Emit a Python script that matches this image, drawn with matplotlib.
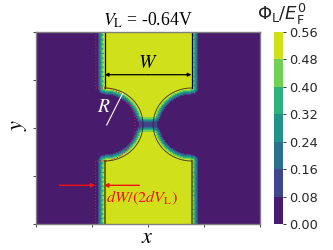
import numpy as np
import matplotlib
matplotlib.use("Agg")
import matplotlib.pyplot as plt

# channel outline (axis units, centre of the neck as origin)
edge_dy = [0, 0.083, 0.167, 0.25, 0.333, 0.417, 0.5, 0.583, 0.667, 0.708, 0.74, 0.76]
edge_hw = [0.09, 0.095, 0.107, 0.129, 0.161, 0.204, 0.261, 0.338, 0.448, 0.529, 0.618, 0.779]
# potential against distance (px) outside the outline
band_dist = [0, 1, 2, 3, 4, 5, 6, 7]
band_phi = [0.53, 0.47, 0.39, 0.31, 0.23, 0.15, 0.07, 0.0]
# dip at the neck against distance (px) from its centre line
neck_dist = [0, 3, 5, 7, 9, 12]
neck_scale = [0.27, 0.3, 0.55, 0.85, 1.0, 1.0]
levels = [0.0, 0.08, 0.16, 0.24, 0.32, 0.40, 0.48, 0.56]
x_ticks = [0, 1, 2, 3, 4]
y_ticks = [0, 1, 2, 3, 4]

W, H = 333, 250
L, R, T, B = 36, 260, 32, 224
SX, SY = (R - L) / 4.0, (B - T) / 4.0
XC, YC = (148.1 - L) / SX, (B - 124.5) / SY


def px(x, y):
    """pixel position in the picture -> axis data"""
    return (np.asarray(x) - L) / SX, (B - np.asarray(y)) / SY


plt.rcParams["font.family"] = "DejaVu Sans"
plt.rcParams["mathtext.fontset"] = "stix"
SERIF = "Liberation Serif"

fig = plt.figure(figsize=(W / 100, H / 100), dpi=100)
ax = fig.add_axes([L / W, 1 - B / H, (R - L) / W, (B - T) / H])
cax = fig.add_axes([273.5 / W, 1 - B / H, 9.5 / W, (B - T) / H])

# field from outline + band profile
xs = np.linspace(0, 4, 260)
ys = np.linspace(0, 4, 224)
X, Y = np.meshgrid(xs, ys)
oy = np.concatenate([edge_dy, [2.2]])
ohw = np.concatenate([edge_hw, [edge_hw[-1]]])
dense_y = np.concatenate([np.linspace(oy[i], oy[i + 1], 16) for i in range(len(oy) - 1)])
dense_hw = np.interp(dense_y, oy, ohw)
hw = np.interp(np.abs(Y - YC), oy, ohw)
inside = np.abs(X - XC) < hw
dist = np.zeros(X.shape)
for j in range(X.shape[0]):
    ax_off = np.abs(X[j] - XC)[:, None]
    ay_off = np.abs(Y[j] - YC)[:, None]
    d2 = ((ax_off - dense_hw[None, :]) * SX) ** 2 + ((ay_off - dense_y[None, :]) * SY) ** 2
    dist[j] = np.sqrt(d2.min(axis=1))
Z = np.interp(dist, band_dist, band_phi)
Z[inside] = band_phi[0]
Z = Z * np.interp(np.abs(Y - YC) * SY, neck_dist, neck_scale)

cf = ax.contourf(X, Y, Z, levels=levels, cmap="viridis", vmin=0, vmax=0.56)

# black outline
t = np.linspace(-np.pi / 2, np.pi / 2, 80)
for sgn, cx in ((1, 104.5), (-1, 191.7)):
    ax.plot(*px(cx + sgn * 38.5 * np.cos(t), 124.5 + 36.5 * np.sin(t)), color="#222222", lw=0.7, alpha=0.8)
    ax.plot(*px([cx, cx], [32, 88]), color="black", lw=0.9)
    ax.plot(*px([cx, cx], [161, 224]), color="#3a3a10", lw=1.4, alpha=0.7)

# red dotted outline
red_x = np.concatenate([[95.8, 95.8, 104.5], 104.5 + 30.5 * np.cos(t), [104.5, 95.5, 95.5]])
red_y = np.concatenate([[32, 88, 88], 124.5 + 36.5 * np.sin(t), [161, 161, 226]])
ax.plot(*px(red_x, red_y), color="#d8103c", lw=0.8, ls=":", clip_on=False)


def arrow(x0, x1, y, color, lw, size):
    ax.annotate("", xy=px(x1, y), xytext=px(x0, y),
                arrowprops=dict(arrowstyle="-|>", color=color, lw=lw, shrinkA=0, shrinkB=0, mutation_scale=size))


arrow(148, 104.8, 74.7, "black", 0.9, 5)
arrow(148, 191.4, 74.7, "black", 0.9, 5)
arrow(59.3, 95.3, 185.3, "#f01010", 1.0, 6)
arrow(139.3, 104, 185.3, "#f01010", 1.0, 6)
ax.plot(*px([122.7, 106.7], [93.3, 125]), color="white", lw=0.8)

ax.text(*px(148, 62), r"$W$", fontsize=14, ha="center", va="center", color="black")
ax.text(*px(103.5, 107), r"$R$", fontsize=14, ha="center", va="center", color="white")
ax.text(*px(106, 202), r"$dW/(2dV_{\mathrm{L}})$", fontsize=11.7, ha="left", va="baseline", color="#f01010")

ax.set_xlim(0, 4)
ax.set_ylim(0, 4)
ax.set_xticks(x_ticks)
ax.set_yticks(y_ticks)
ax.set_xticklabels([])
ax.set_yticklabels([])
ax.tick_params(length=2.5, width=0.7, color="#444444")
for s in ax.spines.values():
    s.set_color("#808080")
    s.set_linewidth(1.0)

cb = fig.colorbar(cf, cax=cax, ticks=levels)
cb.outline.set_visible(False)
cb.ax.set_yticklabels([f"{v:.2f}" for v in levels])
cb.ax.tick_params(length=2.5, width=0.7, labelsize=9.3, pad=2, color="#333333", labelcolor="#262626")

fig.text(148 / W, 1 - 26 / H, r"$V_{\mathrm{L}}$ = -0.64V", family=SERIF, fontsize=12.8, ha="center", va="baseline")
fig.text(147 / W, 1 - 237 / H, r"$x$", fontsize=16, ha="center", va="center")
fig.text(19 / W, 1 - 125 / H, r"$y$", fontsize=16, ha="center", va="center", rotation=90)
fig.text(257 / W, 1 - 20 / H, r"$\Phi_{\mathrm{L}}/E_{\mathrm{F}}^{0}$", fontsize=13, ha="left", va="baseline",
         math_fontfamily="dejavusans", color="#222222")

fig.savefig("out.png", dpi=100)
